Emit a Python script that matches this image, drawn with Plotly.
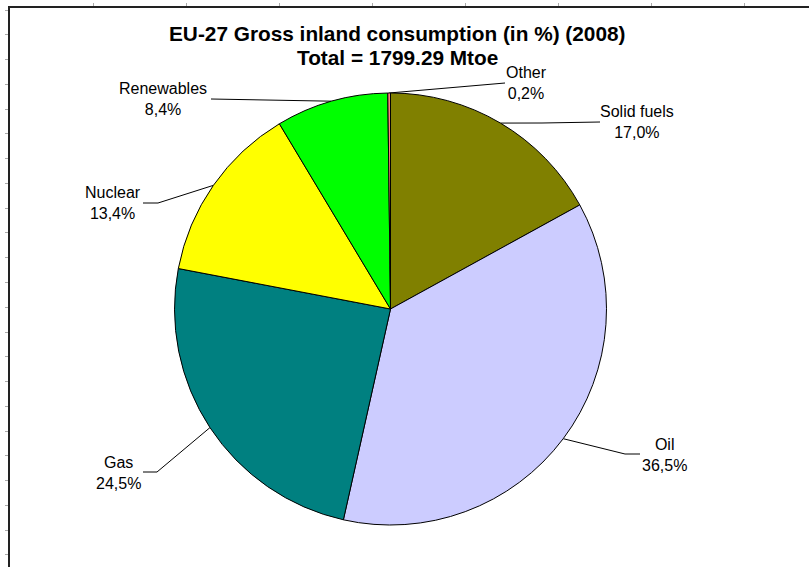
import math
import plotly.graph_objects as go

# ---- data ----
categories = ["Solid fuels", "Oil", "Gas", "Nuclear", "Renewables", "Other"]
shares = [17.0, 36.5, 24.5, 13.4, 8.4, 0.2]
share_labels = ["17,0%", "36,5%", "24,5%", "13,4%", "8,4%", "0,2%"]
colors = ["#808000", "#CCCCFF", "#008080", "#FFFF00", "#00FF00", "#FF8080"]
title_line1 = "EU-27 Gross inland consumption (in %) (2008)"
title_line2 = "Total = 1799.29 Mtoe"

# ---- layout (pixel-like coordinates) ----
W, H = 809, 567
L, T = 10, 8
CX, CY, R = 390.5, 309.0, 216.0
# label block centres and leader elbow / end points
label_pos = {
    "Solid fuels": (637, 121.5),
    "Oil": (664.5, 454.5),
    "Gas": (118, 473),
    "Nuclear": (113, 202.5),
    "Renewables": (163, 98.5),
    "Other": (526, 82.5),
}
leader_pts = {
    "Solid fuels": [(542, 123), (600, 122)],
    "Oil": [(625, 454), (640, 454)],
    "Gas": [(157, 472), (143, 472)],
    "Nuclear": [(158, 203), (143, 203)],
    "Renewables": [(242, 99.5), (211, 99)],
    "Other": [(497, 83), (505, 83)],
}

pw, ph = W - L, H - T
dom_x = [(CX - R - L) / pw, (CX + R - L) / pw]
dom_y = [(H - (CY + R)) / ph, (H - (CY - R)) / ph]

fig = go.Figure()

fig.add_trace(go.Pie(
    labels=categories, values=shares, sort=False, direction="clockwise",
    rotation=0, marker=dict(colors=colors, line=dict(color="#000000", width=1)),
    textinfo="none", hoverinfo="label+percent", showlegend=False,
    domain=dict(x=dom_x, y=dom_y),
))

# leader lines computed from the slice mid-angles
total = sum(shares)
lx, ly = [], []
cum = 0.0
for cat, v in zip(categories, shares):
    mid = (cum + v / 2) / total * 2 * math.pi
    cum += v
    ex, ey = CX + R * math.sin(mid), CY - R * math.cos(mid)
    pts = [(ex, ey)] + leader_pts[cat]
    for px, py in pts:
        lx.append(px)
        ly.append(py)
    lx.append(None)
    ly.append(None)

fig.add_trace(go.Scatter(x=lx, y=ly, mode="lines",
                         line=dict(color="#000000", width=1),
                         hoverinfo="skip", showlegend=False))

annotations = []
for cat, lab in zip(categories, share_labels):
    x, y = label_pos[cat]
    annotations.append(dict(x=x, y=y, xref="x", yref="y", text=f"{cat}<br>{lab}",
                            showarrow=False, xanchor="center", yanchor="middle",
                            font=dict(family="Liberation Sans, Arial", size=16, color="#000")))
annotations.append(dict(x=397, y=33, xref="x", yref="y", text=f"<b>{title_line1}</b>",
                        showarrow=False, xanchor="center", yanchor="middle",
                        font=dict(family="Liberation Sans, Arial", size=20.8, color="#000")))
annotations.append(dict(x=397.5, y=57, xref="x", yref="y", text=f"<b>{title_line2}</b>",
                        showarrow=False, xanchor="center", yanchor="middle",
                        font=dict(family="Liberation Sans, Arial", size=20.8, color="#000")))

fig.update_layout(
    width=W, height=H, margin=dict(l=L, r=0, t=T, b=0),
    paper_bgcolor="white", plot_bgcolor="white",
    annotations=annotations,
    xaxis=dict(range=[L, W], side="top", showline=True, linecolor="#222", linewidth=2,
               ticks="outside", ticklen=3, tickcolor="#aaa", tick0=93, dtick=93.14,
               showticklabels=False, showgrid=False, zeroline=False, fixedrange=True),
    yaxis=dict(range=[H, T], showline=True, linecolor="#222", linewidth=2,
               ticks="outside", ticklen=3, tickcolor="#aaa", tick0=10, dtick=24.77,
               showticklabels=False, showgrid=False, zeroline=False, fixedrange=True),
)

fig.write_html("out.html", config={"displayModeBar": False},
               post_script="document.body.style.margin='0';document.body.style.overflow='hidden';")
